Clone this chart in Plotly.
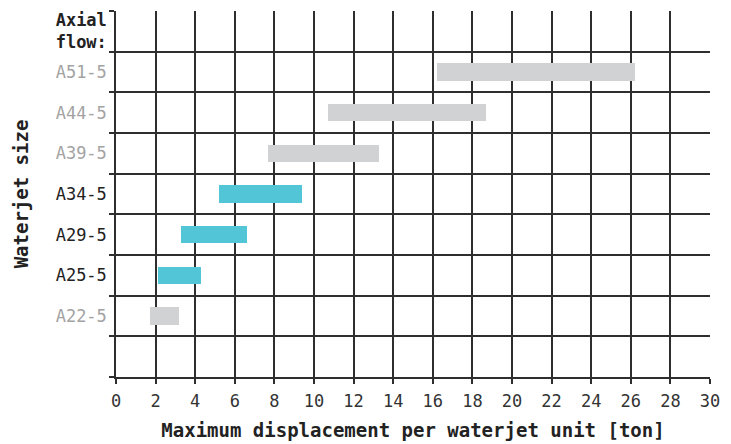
import plotly.graph_objects as go

# Data
sizes = ["A22-5", "A25-5", "A29-5", "A34-5", "A39-5", "A44-5", "A51-5"]
disp_min = [1.7, 2.1, 3.3, 5.2, 7.7, 10.7, 16.2]
disp_max = [3.2, 4.3, 6.6, 9.4, 13.3, 18.7, 26.2]
highlight = [False, True, True, True, False, False, False]
x_ticks = list(range(0, 31, 2))

CYAN = "#52c5d6"
GREY = "#d1d2d4"
GRID = "#2e2e2e"
FONT = "DejaVu Sans Mono"

# row layout: empty row at bottom (0), sizes 1..7, header row 8
row_pos = list(range(1, len(sizes) + 1))
tick_pos = [0] + row_pos + [len(sizes) + 1]
tick_text = [""]
for s, h in zip(sizes, highlight):
    col = "#222222" if h else "#a3a3a3"
    tick_text.append(f"<span style='color:{col}'>{s}</span>")
tick_text.append("<b>Axial</b><br><b>flow:</b>")
boundaries = [p - 0.5 for p in tick_pos] + [tick_pos[-1] + 0.5]

fig = go.Figure()
fig.add_trace(go.Bar(
    y=row_pos,
    x=[b - a for a, b in zip(disp_min, disp_max)],
    base=disp_min,
    orientation="h",
    width=0.42,
    marker=dict(color=[CYAN if h else GREY for h in highlight], line=dict(width=0)),
    hovertemplate="%{base} - %{x}<extra></extra>",
))

# the page adds an 8px body margin, so the figure is 8px smaller
fig.update_layout(
    width=723, height=436,
    margin=dict(l=108, r=21, t=3, b=67),
    paper_bgcolor="white", plot_bgcolor="white",
    showlegend=False,
    font=dict(family=FONT, size=17, color="#222222"),
    bargap=0,
)
fig.update_xaxes(
    range=[0, 30],
    tickmode="array", tickvals=x_ticks,
    showgrid=True, gridcolor=GRID, gridwidth=1.5,
    ticks="outside", ticklen=5, tickcolor=GRID, tickwidth=1.5,
    showline=True, linecolor=GRID, linewidth=1.5,
    zeroline=False,
    tickfont=dict(size=17, color="#333333"),
    ticklabelstandoff=3,
    title=dict(text="<b>Maximum displacement per waterjet unit [ton]</b>",
               font=dict(size=19, color="#222222"), standoff=14),
)
fig.update_yaxes(
    range=[-0.5, len(sizes) + 1.5],
    tickmode="array", tickvals=tick_pos, ticktext=tick_text,
    showgrid=False, ticks="", zeroline=False,
    showline=True, linecolor=GRID, linewidth=1.5,
    minor=dict(tickmode="array", tickvals=boundaries, showgrid=True,
               gridcolor=GRID, gridwidth=1.5, ticks="outside", ticklen=5,
               tickcolor=GRID, tickwidth=1.5),
    tickfont=dict(size=17),
    ticklabelstandoff=4,
    title=dict(text="<b>Waterjet size</b>", font=dict(size=19, color="#222222"), standoff=22),
)

fig.write_html("out.html")
